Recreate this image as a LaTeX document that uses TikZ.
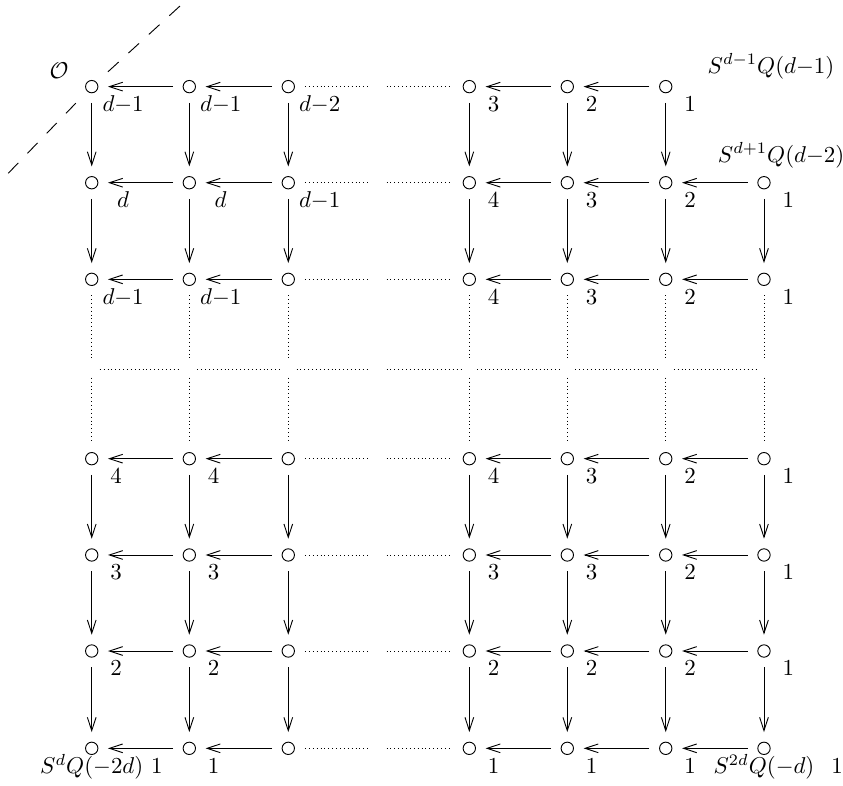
\documentclass[tikz,border=0pt]{standalone}
\usepackage{amsmath,amssymb}
\usepackage{tikz}
\usetikzlibrary{arrows.meta}

\begin{document}
\begin{tikzpicture}[x=1cm,y=1cm,vtx/.style={circle,draw,inner sep=0pt,minimum size=5.4pt},
  arr/.style={-{Straight Barb[length=5.8pt,width=3.8pt]},shorten <=4.2pt,shorten >=4.2pt},
  dots/.style={dash pattern=on 0.4pt off 1.3pt},slash/.style={dash pattern=on 6.3pt off 5.8pt},
  num/.style={anchor=base,xshift=10.6pt,yshift=-10.9pt},var/.style={anchor=base,xshift=13.7pt,yshift=-10.9pt},
  lab/.style={anchor=base}]
\useasboundingbox (0,0) rectangle (12.94,12.05);
\foreach \r/\y in {1/10.72,2/9.245,3/7.762,4/5.009,5/3.531,6/2.057,7/0.563}
  {\coordinate (h\r) at (5.807,\y);
   \foreach \c/\x in {1/1.408,2/2.906,3/4.425,4/7.204,5/8.708,6/10.219,7/11.727}
     {\ifnum\r\c=17 \else\node[vtx] (n\r\c) at (\x,\y) {};\fi}}
\foreach \c in {1,...,7} \coordinate (m\c) at (n2\c |- 0,6.385);
\coordinate (mh) at (5.807,6.385);
\foreach \r in {1,...,7} \foreach \c/\d in {1/2,2/3,4/5,5/6,6/7} {\ifnum\r\d=17 \else\draw[arr] (n\r\d) -- (n\r\c);\fi}
\foreach \r/\s in {1/2,2/3,4/5,5/6,6/7} \foreach \c in {1,...,7} {\ifnum\r\c=17 \else\draw[arr] (n\r\c) -- (n\s\c);\fi}
\foreach \r in {1,...,7} {\draw[dots,shorten <=4.4pt,shorten >=3.6pt] (n\r3) -- (h\r); \draw[dots,shorten <=3.6pt,shorten >=4.8pt] (h\r) -- (n\r4);}
\foreach \c in {1,...,7} {\draw[dots,shorten <=4pt,shorten >=3.8pt] (n3\c) -- (m\c); \draw[dots,shorten <=3.8pt,shorten >=4.5pt] (m\c) -- (n4\c);}
\foreach \a/\b in {1/2,2/3,4/5,5/6,6/7} \draw[dots,shorten <=3.5pt,shorten >=3.5pt] (m\a) -- (m\b);
\draw[dots,shorten <=3.6pt,shorten >=3.6pt] (m3) -- (mh); \draw[dots,shorten <=3.6pt,shorten >=3.8pt] (mh) -- (m4);
\coordinate (dlo) at (0.127,9.39); \coordinate (dup) at (2.763,11.958);
\draw[slash,shorten >=7.1pt] (dlo) -- (n11); \draw[slash,shorten <=6.7pt] (n11) -- (dup);
\node[lab] (orig) at (0.906,10.852) {$\mathcal{O}$};
\node[lab] (top1) at (11.835,10.925) {$S^{d-1}Q(d{-}1)$};
\node[lab] (top2) at (11.99,9.563) {$S^{d+1}Q(d{-}2)$};
\node[var] (l11) at (n11) {$d{-}1$}; \node[var] (l12) at (n12) {$d{-}1$}; \node[var] (l13) at (n13) {$d{-}2$};
\node[num] (l14) at (n14) {$3$}; \node[num] (l15) at (n15) {$2$}; \node[num] (l16) at (n16) {$1$};
\node[var] (l21) at (n21) {$d$}; \node[var] (l22) at (n22) {$d$}; \node[var] (l23) at (n23) {$d{-}1$};
\node[num] (l24) at (n24) {$4$}; \node[num] (l25) at (n25) {$3$}; \node[num] (l26) at (n26) {$2$}; \node[num] (l27) at (n27) {$1$};
\node[var] (l31) at (n31) {$d{-}1$}; \node[var] (l32) at (n32) {$d{-}1$};
\node[num] (l34) at (n34) {$4$}; \node[num] (l35) at (n35) {$3$}; \node[num] (l36) at (n36) {$2$}; \node[num] (l37) at (n37) {$1$};
\node[num] (l41) at (n41) {$4$}; \node[num] (l42) at (n42) {$4$};
\node[num] (l44) at (n44) {$4$}; \node[num] (l45) at (n45) {$3$}; \node[num] (l46) at (n46) {$2$}; \node[num] (l47) at (n47) {$1$};
\node[num] (l51) at (n51) {$3$}; \node[num] (l52) at (n52) {$3$};
\node[num] (l54) at (n54) {$3$}; \node[num] (l55) at (n55) {$3$}; \node[num] (l56) at (n56) {$2$}; \node[num] (l57) at (n57) {$1$};
\node[num] (l61) at (n61) {$2$}; \node[num] (l62) at (n62) {$2$};
\node[num] (l64) at (n64) {$2$}; \node[num] (l65) at (n65) {$2$}; \node[num] (l66) at (n66) {$2$}; \node[num] (l67) at (n67) {$1$};
\node[lab,yshift=-11pt] (s71) at (n71) {$S^dQ(-2d)$}; \node[num,xshift=17.8pt] (l71) at (n71) {$1$};
\node[num] (l72) at (n72) {$1$}; \node[num] (l74) at (n74) {$1$}; \node[num] (l75) at (n75) {$1$}; \node[num] (l76) at (n76) {$1$};
\node[lab,yshift=-11pt] (s77) at (n77) {$S^{2d}Q(-d)$}; \node[num,xshift=21.3pt] (l77) at (n77) {$1$};
\end{tikzpicture}
\end{document}
